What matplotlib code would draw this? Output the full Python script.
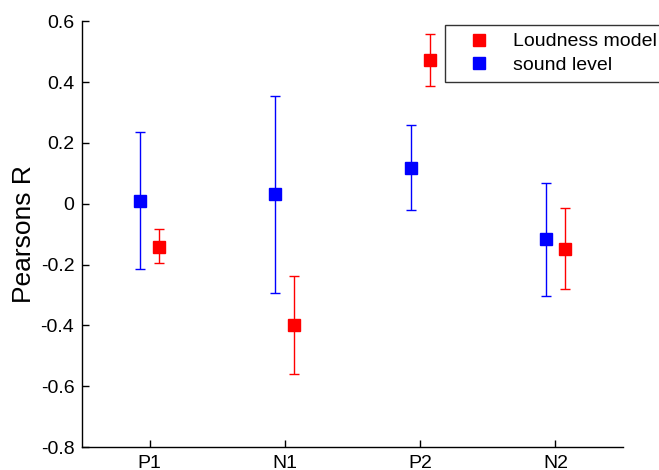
import matplotlib
matplotlib.use("Agg")
import matplotlib.pyplot as plt
from matplotlib.lines import Line2D
import numpy as np

plt.rcParams['font.family'] = ['Liberation Sans', 'DejaVu Sans']

components = ["P1", "N1", "P2", "N2"]

loud_mean = [-0.142, -0.399, 0.472, -0.149]
loud_low = [-0.195, -0.559, 0.386, -0.281]
loud_high = [-0.084, -0.239, 0.558, -0.015]

level_mean = [0.010, 0.031, 0.116, -0.116]
level_low = [-0.215, -0.293, -0.022, -0.305]
level_high = [0.235, 0.354, 0.259, 0.068]

yticks = [-0.8, -0.6, -0.4, -0.2, 0, 0.2, 0.4, 0.6]
ytick_labels = ["-0.8", "-0.6", "-0.4", "-0.2", "0", "0.2", "0.4", "0.6"]

fig = plt.figure(figsize=(6.59, 4.70), dpi=100)
ax = fig.add_axes([0.1244, 0.0489, 0.8210, 0.9058])

x = np.arange(1, len(components) + 1)
off = 0.07

lm = np.array(loud_mean)
le = [lm - np.array(loud_low), np.array(loud_high) - lm]
vm = np.array(level_mean)
ve = [vm - np.array(level_low), np.array(level_high) - vm]

ax.errorbar(x - off, vm, yerr=ve, fmt='s', color='#0000ff', ecolor='#0000ff',
            markersize=8, elinewidth=1.0, capsize=3.5, capthick=1.0, zorder=3)
ax.errorbar(x + off, lm, yerr=le, fmt='s', color='#ff0000', ecolor='#ff0000',
            markersize=8, elinewidth=1.0, capsize=3.5, capthick=1.0, zorder=3)

ax.set_xlim(0.5, 4.5)
ax.set_ylim(-0.8, 0.6)
ax.set_xticks(x)
ax.set_xticklabels(components)
ax.set_yticks(yticks)
ax.set_yticklabels(ytick_labels)
ax.tick_params(direction='in', length=5, width=1, labelsize=14, colors='black')
ax.tick_params(axis='x', pad=6)
ax.tick_params(axis='y', pad=5.5)
ax.spines['top'].set_visible(False)
ax.spines['right'].set_visible(False)
for s in ['left', 'bottom']:
    ax.spines[s].set_linewidth(1.0)
ax.set_ylabel("Pearsons R", fontsize=19, labelpad=3)

handles = [
    Line2D([], [], linestyle='none', marker='s', color='#ff0000', markersize=8),
    Line2D([], [], linestyle='none', marker='s', color='#0000ff', markersize=8),
]
leg = fig.legend(handles, ["Loudness model", "sound level"],
                 loc='upper left', bbox_to_anchor=(445 / 659, 1 - 25 / 470),
                 fontsize=14, frameon=True, fancybox=False, borderpad=0.4,
                 handletextpad=0.4, labelspacing=0.3, handlelength=2.7,
                 borderaxespad=0)
leg.get_frame().set_edgecolor('black')
leg.get_frame().set_linewidth(1.0)

fig.savefig("out.png", dpi=100)
